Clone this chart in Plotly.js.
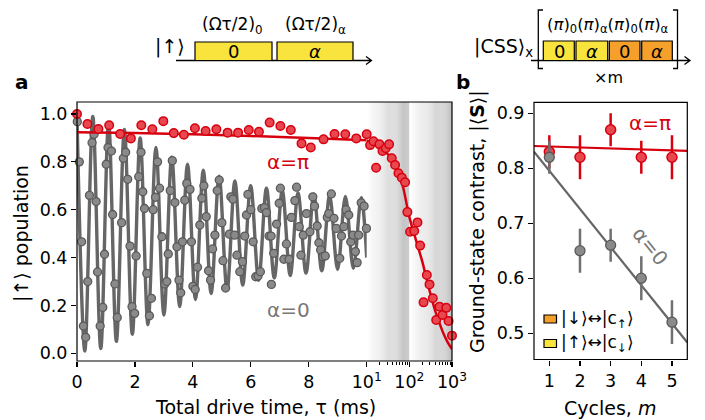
<!DOCTYPE html>
<html><head><meta charset="utf-8">
<script src="https://cdn.plot.ly/plotly-3.0.1.min.js"></script>
<style>html,body{margin:0;padding:0;background:#fff}#plot{width:705px;height:420px}</style>
</head><body><div id="plot"></div>
<script>
// ---------- Panel a : alpha = 0 (gray) data ----------
const grayTau = [0.01,0.08,0.16,0.22,0.30,0.37,0.43,0.52,0.59,0.66,0.71,0.80,0.89,0.95,1.01,1.07,1.19,1.23,1.31,1.39,1.54,1.60,1.68,1.75,1.83,1.90,1.99,2.04,2.13,2.21,2.27,2.33,2.41,2.50,2.57,2.63,2.71,2.78,2.85,2.93,3.03,3.10,3.15,3.22,3.29,3.38,3.45,3.52,3.58,3.64,3.72,3.79,3.90,3.95,4.00,4.08,4.16,4.24,4.31,4.38,4.46,4.54,4.61,4.68,4.76,4.84,4.91,5.00,5.04,5.13,5.26,5.31,5.38,5.44,5.52,5.62,5.71,5.79,5.85,5.90,6.00,6.08,6.17,6.25,6.33,6.38,6.47,6.54,6.63,6.70,6.71,6.79,6.89,6.98,7.02,7.14,7.23,7.32,7.40,7.52,7.58,7.67,7.73,7.81,7.92,8.04,8.14,8.20,8.29,8.35,8.41,8.49,8.57,8.64,8.69,8.78,8.87,8.95,9.07,9.13,9.21,9.29,9.38,9.45,9.53,9.61,9.67,9.72,9.81,9.91,9.99];
const grayPop = [0.968,0.80,0.466,0.114,0.067,0.30,0.66,0.88,0.915,0.634,0.34,0.114,0.192,0.414,0.79,0.86,0.845,0.58,0.29,0.15,0.546,0.815,0.84,0.727,0.448,0.195,0.167,0.407,0.738,0.84,0.675,0.605,0.334,0.157,0.23,0.60,0.652,0.80,0.69,0.487,0.29,0.30,0.415,0.68,0.805,0.63,0.445,0.306,0.253,0.466,0.64,0.71,0.685,0.466,0.28,0.267,0.36,0.536,0.648,0.70,0.571,0.345,0.306,0.436,0.494,0.68,0.724,0.546,0.387,0.273,0.498,0.654,0.644,0.494,0.41,0.341,0.383,0.49,0.578,0.664,0.60,0.466,0.32,0.323,0.341,0.605,0.609,0.588,0.49,0.49,0.288,0.418,0.54,0.627,0.69,0.393,0.457,0.393,0.568,0.638,0.694,0.529,0.41,0.494,0.584,0.508,0.654,0.615,0.532,0.462,0.432,0.404,0.407,0.568,0.584,0.666,0.564,0.522,0.397,0.49,0.529,0.60,0.578,0.466,0.494,0.425,0.379,0.494,0.629,0.615,0.522];
// gray fit curve: extrema
const grayFitTau = [0.00,0.27,0.545,0.82,1.09,1.36,1.635,1.91,2.18,2.45,2.725,3.00,3.27,3.545,3.815,4.09,4.36,4.63,4.905,5.18,5.45,5.72,5.995,6.27,6.54,6.81,7.085,7.36,7.63,7.905,8.175,8.45,8.72,8.995,9.265,9.54,9.81,10.0];
const grayFitPop = [0.99,0.01,0.99,0.02,0.965,0.05,0.935,0.08,0.90,0.12,0.86,0.16,0.82,0.195,0.79,0.225,0.765,0.25,0.74,0.265,0.72,0.285,0.70,0.305,0.69,0.315,0.68,0.325,0.67,0.335,0.665,0.345,0.66,0.35,0.655,0.355,0.65,0.40];

// ---------- Panel a : alpha = pi (red) data ----------
const redTauLin = [0.0,0.36,0.74,1.11,1.49,1.86,2.22,2.6,2.98,3.34,3.69,4.07,4.44,4.81,5.2,5.56,5.93,6.28,6.65,7.02,7.38,7.75,8.07,8.51,8.89,9.26,9.64];
const redPopLin = [1.0,0.958,0.937,0.953,0.916,0.898,0.953,0.936,0.97,0.92,0.913,0.94,0.929,0.936,0.922,0.922,0.933,0.926,0.964,0.95,0.933,0.877,0.86,0.894,0.916,0.915,0.898];
const redTauLog = [10,12,14.4,16.6,19.9,23.5,28,33.5,38.7,46.3,55.5,66.6,79.5,90,104,130,155,179,215,257,297,355,426,510,600,735,830,1000];
const redPopLog = [0.915,0.87,0.886,0.775,0.873,0.845,0.857,0.873,0.815,0.787,0.752,0.734,0.715,0.59,0.508,0.511,0.547,0.45,0.213,0.327,0.288,0.23,0.139,0.195,0.16,0.19,0.135,0.074];
const redFitTauLin = [0,2,4,6,8,10];
const redFitPopLin = [0.924,0.92,0.915,0.908,0.90,0.89];
const redFitTauLog = [10,15,20,30,40,50,70,100,150,200,250,300,400,500,630,800,1000];
const redFitPopLog = [0.89,0.875,0.86,0.835,0.81,0.78,0.70,0.57,0.46,0.385,0.315,0.26,0.18,0.13,0.083,0.045,0.018];

// ---------- Panel b ----------
const cycles = [1,2,3,4,5];
const contrastPi = [0.83,0.82,0.87,0.82,0.82];
const errPi = [0.03,0.04,0.03,0.03,0.04];
const contrast0 = [0.82,0.65,0.66,0.60,0.52];
const err0 = [0.03,0.04,0.03,0.04,0.04];
const fitM = [0.5,5.5];
const fitPi = [0.8405,0.8315];
const fit0 = [0.83,0.483];

// tick labels
const linTicks = [0,2,4,6,8];
const logTicks = [10,100,1000];
const logTickText = ['10<sup>1</sup>','10<sup>2</sup>','10<sup>3</sup>'];
const logMinor = [20,30,40,50,60,70,80,90,200,300,400,500,600,700,800,900];
const popTicks = [0,0.2,0.4,0.6,0.8,1.0];
const bTicksY = [0.5,0.6,0.7,0.8,0.9];

// ---------- helpers ----------
const W=705,H=420;
const X=p=>p/W, Y=p=>1-p/H;
const RED='#d7000f', REDFILL='#e8474f', GRAY='#666666', GRAYFILL='#8a8a8a';
const FONT='DejaVu Sans';

const traces = [
 {x:grayFitTau,y:grayFitPop,xaxis:'x',yaxis:'y',mode:'lines',line:{color:GRAY,width:3.4,shape:'spline',smoothing:1},cliponaxis:false,hoverinfo:'skip'},
 {x:grayTau,y:grayPop,xaxis:'x',yaxis:'y',mode:'markers',marker:{size:8,color:GRAYFILL,line:{color:'#5a5a5a',width:1.3}},cliponaxis:false},
 {x:redFitTauLin,y:redFitPopLin,xaxis:'x',yaxis:'y',mode:'lines',line:{color:RED,width:2.5,shape:'spline'},cliponaxis:false},
 {x:redFitTauLog,y:redFitPopLog,xaxis:'x2',yaxis:'y',mode:'lines',line:{color:RED,width:2.5,shape:'spline'},cliponaxis:false},
 {x:redTauLin,y:redPopLin,xaxis:'x',yaxis:'y',mode:'markers',marker:{size:8.5,color:REDFILL,line:{color:RED,width:1.5}},cliponaxis:false},
 {x:redTauLog,y:redPopLog,xaxis:'x2',yaxis:'y',mode:'markers',marker:{size:8.5,color:REDFILL,line:{color:RED,width:1.5}},cliponaxis:false},
 {x:fitM,y:fitPi,xaxis:'x3',yaxis:'y3',mode:'lines',line:{color:RED,width:2.2}},
 {x:cycles,y:contrastPi,xaxis:'x3',yaxis:'y3',mode:'markers',marker:{size:10,color:REDFILL,line:{color:RED,width:1.5}},
  error_y:{type:'data',array:errPi,thickness:2.5,width:0,color:RED},cliponaxis:false},
 {x:fitM,y:fit0,xaxis:'x3',yaxis:'y3',mode:'lines',line:{color:GRAY,width:2.2}},
 {x:cycles,y:contrast0,xaxis:'x3',yaxis:'y3',mode:'markers',marker:{size:10,color:GRAYFILL,line:{color:'#5a5a5a',width:1.3}},
  error_y:{type:'data',array:err0,thickness:2.5,width:0,color:'#707070'},cliponaxis:false}
];

const axBase = {showgrid:false,zeroline:false,showline:false,ticks:'outside',ticklen:5,tickwidth:1.2,tickcolor:'#000',
  tickfont:{family:FONT,size:17.5,color:'#000'}};

const shapes = [];
// gradient shading in log region
const N=40;
for (let band=0; band<2; band++){
  for (let i=0;i<N;i++){
    const f=(i+0.5)/N;
    const g=Math.round(255-f*(255-190));
    shapes.push({type:'rect',xref:'x2 domain',yref:'y domain',x0:band*0.5+i/N*0.5,x1:band*0.5+(i+1.05)/N*0.5,y0:0,y1:1,
      fillcolor:`rgb(${g},${g},${g})`,line:{width:0},layer:'below'});
  }
}
// frames
shapes.push({type:'rect',xref:'paper',yref:'paper',x0:X(77),x1:X(452),y0:Y(361),y1:Y(102),line:{color:'#000',width:1.2},layer:'above'});
shapes.push({type:'rect',xref:'paper',yref:'paper',x0:X(534),x1:X(687.3),y0:Y(359.5),y1:Y(102.3),line:{color:'#000',width:1.2},layer:'above'});
// top diagram left
shapes.push({type:'path',xref:'paper',yref:'paper',path:`M${X(176)},${Y(60.5)} L${X(371.5)},${Y(60.5)} M${X(366)},${Y(56.5)} L${X(371.5)},${Y(60.5)} L${X(366)},${Y(64.5)}`,line:{color:'#000',width:1.3}});
const YEL='#f8e43c', ORA='#f5a02a';
function box(x0,x1,y0,y1,c){shapes.push({type:'rect',xref:'paper',yref:'paper',x0:X(x0),x1:X(x1),y0:Y(y1),y1:Y(y0),fillcolor:c,line:{color:'#000',width:1.2}});}
box(195,272,42,60.5,YEL); box(277,353,42,60.5,YEL);
// top diagram right
shapes.push({type:'path',xref:'paper',yref:'paper',path:`M${X(531)},${Y(60.5)} L${X(690)},${Y(60.5)} M${X(684.5)},${Y(56.5)} L${X(690)},${Y(60.5)} L${X(684.5)},${Y(64.5)}`,line:{color:'#000',width:1.3}});
shapes.push({type:'path',xref:'paper',yref:'paper',path:`M${X(543)},${Y(10)} L${X(538.3)},${Y(10)} L${X(538.3)},${Y(68.5)} L${X(543)},${Y(68.5)}`,line:{color:'#000',width:1.3}});
shapes.push({type:'path',xref:'paper',yref:'paper',path:`M${X(673)},${Y(10)} L${X(677.5)},${Y(10)} L${X(677.5)},${Y(68.5)} L${X(673)},${Y(68.5)}`,line:{color:'#000',width:1.3}});
box(543.3,574.3,41,60.5,YEL); box(576,607.7,41,60.5,YEL); box(609.3,640,41,60.5,ORA); box(641.7,672.3,41,60.5,ORA);
// legend boxes panel b
box(544,556.5,315,323,ORA); box(544,556.5,339.5,347.5,YEL);

function ann(text,x,y,opt={}){
  return Object.assign({text:text,xref:'paper',yref:'paper',x:X(x),y:Y(y),showarrow:false,xanchor:'center',yanchor:'middle',
    font:{family:FONT,size:opt.size||16,color:opt.color||'#000'}},opt.extra||{});
}
const annotations = [
  ann('<b>a</b>',22,82,{size:20}),
  ann('<b>b</b>',463,82,{size:20}),
  ann('Total drive time, τ (ms)',265,407,{size:19}),
  ann('|↑⟩ population',21,234,{size:19,extra:{textangle:-90}}),
  ann('Cycles, <i>m</i>',610,408,{size:19}),
  ann('Ground-state contrast, |⟨<b>S</b>⟩|',477,222,{size:19,extra:{textangle:-90}}),
  ann('α=π',288,162,{size:20,color:RED}),
  ann('α=0',288,310,{size:20,color:'#777'}),
  ann('α=π',650,123,{size:20,color:RED}),
  ann('α=0',650,246,{size:20,color:'#777',extra:{textangle:51}}),
  ann('|↓⟩↔|c<sub>↑</sub>⟩',559,319,{size:17,extra:{xanchor:'left'}}),
  ann('|↑⟩↔|c<sub>↓</sub>⟩',559,343,{size:17,extra:{xanchor:'left'}}),
  ann('|↑⟩',170,46,{size:19}),
  ann('(Ωτ/2)<sub>0</sub>',233,25,{size:17}),
  ann('(Ωτ/2)<sub>α</sub>',315,25,{size:17}),
  ann('0',233.5,51.5,{size:18}),
  ann('<i>α</i>',315,51.5,{size:18}),
  ann('|CSS⟩<sub>x</sub>',503,47,{size:19}),
  ann('(<i>π</i>)<sub>0</sub>(<i>π</i>)<sub>α</sub>(<i>π</i>)<sub>0</sub>(<i>π</i>)<sub>α</sub>',608,25,{size:16.5}),
  ann('0',559,51.5,{size:18}),
  ann('<i>α</i>',592,51.5,{size:18}),
  ann('0',624.5,51.5,{size:18}),
  ann('<i>α</i>',657,51.5,{size:18}),
  ann('×m',608,77,{size:16})
];

const layout = {
  width:W,height:H,margin:{l:0,r:0,t:0,b:0},paper_bgcolor:'#fff',plot_bgcolor:'rgba(0,0,0,0)',showlegend:false,
  font:{family:FONT,color:'#000'},
  xaxis:Object.assign({},axBase,{domain:[X(77),X(366.7)],range:[0,10],anchor:'y',tickvals:linTicks}),
  xaxis2:Object.assign({},axBase,{domain:[X(366.7),X(452)],type:'log',range:[1,3],anchor:'y',tickvals:logTicks,ticktext:logTickText,
     minor:{tickvals:logMinor,ticks:'outside',ticklen:3,tickcolor:'#000',tickwidth:1}}),
  yaxis:Object.assign({},axBase,{domain:[Y(361),Y(102)],range:[-0.032,1.05],anchor:'x',tickvals:popTicks,tickformat:'.1f'}),
  xaxis3:Object.assign({},axBase,{domain:[X(534),X(687.3)],range:[0.5,5.5],anchor:'y3',tickvals:cycles}),
  yaxis3:Object.assign({},axBase,{domain:[Y(359.5),Y(102.3)],range:[0.452,0.92],anchor:'x3',tickvals:bTicksY,tickformat:'.1f'}),
  shapes:shapes,annotations:annotations
};
Plotly.newPlot('plot',traces,layout,{staticPlot:true,displayModeBar:false});
</script></body></html>
